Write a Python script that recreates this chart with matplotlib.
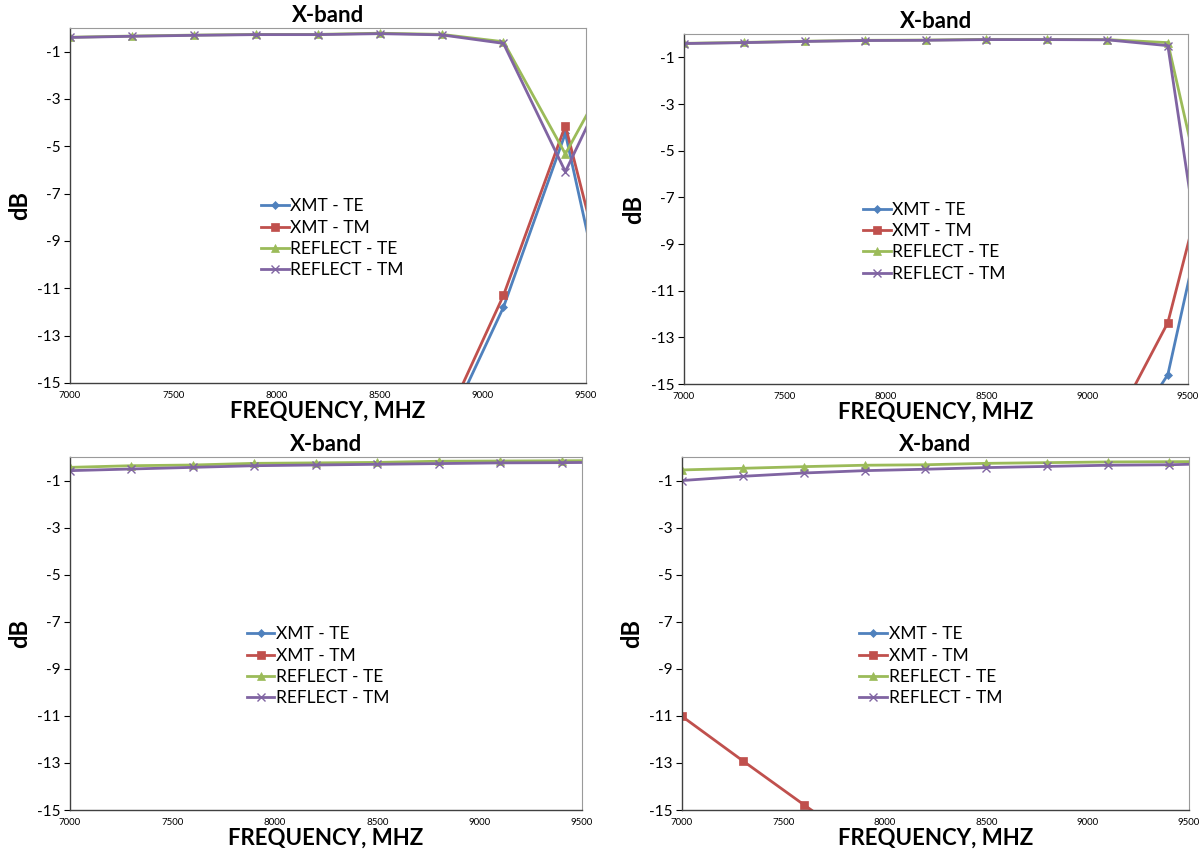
import numpy as np
import matplotlib
matplotlib.use("Agg")
import matplotlib.pyplot as plt

plt.rcParams["font.family"] = ["Lato", "DejaVu Sans"]
plt.rcParams["axes.unicode_minus"] = False

# frequency points (MHz); last point lies past the axis limit and gets clipped
freq = [7000, 7300, 7600, 7900, 8200, 8500, 8800, 9100, 9400, 9700]

# panel 1
p1_xmt_te = [-45, -42, -40, -37, -33, -27, -17.4, -11.8, -4.45, -16.3]
p1_xmt_tm = [-44, -41, -39, -36, -32, -26, -17.0, -11.3, -4.12, -14.4]
p1_ref_te = [-0.39, -0.34, -0.30, -0.27, -0.27, -0.22, -0.27, -0.58, -5.32, -0.55]
p1_ref_tm = [-0.40, -0.35, -0.31, -0.28, -0.28, -0.24, -0.29, -0.65, -6.07, -0.60]

# panel 2
p2_xmt_te = [-48, -46, -44, -41, -37, -32, -25, -18.6, -14.6, -2.9]
p2_xmt_tm = [-47, -45, -42, -39, -35, -30, -23, -17.3, -12.37, -2.26]
p2_ref_te = [-0.40, -0.36, -0.31, -0.27, -0.26, -0.23, -0.23, -0.24, -0.37, -11.8]
p2_ref_tm = [-0.41, -0.37, -0.32, -0.28, -0.27, -0.24, -0.24, -0.25, -0.50, -17.8]

# panel 3
p3_xmt_te = [-40, -41, -42, -43, -44, -45, -46, -47, -48, -49]
p3_xmt_tm = [-38, -39, -40, -41, -42, -43, -44, -45, -46, -47]
p3_ref_te = [-0.44, -0.37, -0.34, -0.27, -0.25, -0.23, -0.18, -0.17, -0.16, -0.15]
p3_ref_tm = [-0.58, -0.51, -0.44, -0.37, -0.34, -0.31, -0.28, -0.25, -0.24, -0.22]

# panel 4
p4_xmt_te = [-35, -37, -39, -41, -43, -45, -47, -49, -51, -53]
p4_xmt_tm = [-11.02, -12.91, -14.77, -16.6, -18.4, -20.1, -21.8, -23.4, -25.0, -26.5]
p4_ref_te = [-0.55, -0.48, -0.41, -0.35, -0.33, -0.27, -0.24, -0.21, -0.20, -0.19]
p4_ref_tm = [-1.00, -0.82, -0.68, -0.58, -0.52, -0.45, -0.40, -0.35, -0.33, -0.27]

series_names = ["XMT - TE", "XMT - TM", "REFLECT - TE", "REFLECT - TM"]
panel_data = [
    [p1_xmt_te, p1_xmt_tm, p1_ref_te, p1_ref_tm],
    [p2_xmt_te, p2_xmt_tm, p2_ref_te, p2_ref_tm],
    [p3_xmt_te, p3_xmt_tm, p3_ref_te, p3_ref_tm],
    [p4_xmt_te, p4_xmt_tm, p4_ref_te, p4_ref_tm],
]
y_ticks = [-1, -3, -5, -7, -9, -11, -13, -15]
x_ticks = [7000, 7500, 8000, 8500, 9000, 9500]

colors = ["#4F81BD", "#C0504D", "#9BBB59", "#8064A2"]
markers = ["D", "s", "^", "x"]
msizes = [4, 6, 6, 6]

W, H = 1204, 857
# axes boxes in pixels: left, top, right, bottom
boxes = [(70, 28, 586, 383), (684, 34, 1188, 384),
         (70, 457, 582, 810), (682, 457, 1189, 810)]
legend_anchor = [(0.37, 0.52), (0.355, 0.52), (0.345, 0.52), (0.35, 0.52)]

fig = plt.figure(figsize=(W / 100, H / 100), dpi=100)

for i, (l, t, r, b) in enumerate(boxes):
    ax = fig.add_axes([l / W, 1 - b / H, (r - l) / W, (b - t) / H])
    for k, vals in enumerate(panel_data[i]):
        ax.plot(freq, vals, color=colors[k], marker=markers[k], ms=msizes[k],
                mew=1.0 if markers[k] == "x" else 0.5, lw=2.0,
                label=series_names[k])
    ax.set_xlim(7000, 9500)
    ax.set_ylim(-15, 0)
    ax.set_yticks(y_ticks)
    ax.set_yticklabels([str(v) for v in y_ticks], fontsize=11)
    ax.set_xticks(x_ticks)
    ax.set_xticklabels([str(v) for v in x_ticks], fontsize=7)
    ax.tick_params(axis="y", length=4, width=0.8, pad=3)
    ax.tick_params(axis="x", length=0, pad=6)
    for side in ["top", "right"]:
        ax.spines[side].set_color("#9a9a9a")
        ax.spines[side].set_linewidth(0.8)
    for side in ["left", "bottom"]:
        ax.spines[side].set_color("#404040")
        ax.spines[side].set_linewidth(1.0)
    ax.set_title("X-band", fontsize=16, fontweight="bold", pad=4)
    ax.set_xlabel("FREQUENCY, MHZ", fontsize=16, fontweight="bold", labelpad=0)
    ax.set_ylabel("dB", fontsize=17, fontweight="bold", labelpad=4)
    ax.legend(loc="upper left", bbox_to_anchor=legend_anchor[i], frameon=False,
              fontsize=12.5, handlelength=1.6, handletextpad=0.1,
              labelspacing=0.3, borderpad=0, borderaxespad=0)

fig.savefig("out.png", dpi=100)
